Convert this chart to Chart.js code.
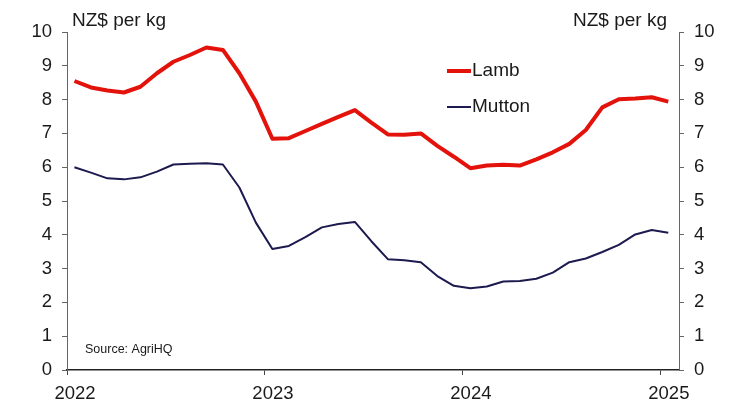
<!DOCTYPE html>
<html>
<head>
<meta charset="utf-8">
<script src="https://cdn.jsdelivr.net/npm/chart.js@4.4.1/dist/chart.umd.min.js"></script>
<style>
  html, body { margin: 0; padding: 0; background: #fff; }
  #chart { display: block; }
</style>
</head>
<body>
<canvas id="chart" width="734" height="400"></canvas>
<script>
// Monthly prices, Jan 2022 - Jan 2025
const months = [
  "Jan 22", "Feb 22", "Mar 22", "Apr 22", "May 22", "Jun 22", "Jul 22", "Aug 22", "Sep 22", "Oct 22", "Nov 22", "Dec 22",
  "Jan 23", "Feb 23", "Mar 23", "Apr 23", "May 23", "Jun 23", "Jul 23", "Aug 23", "Sep 23", "Oct 23", "Nov 23", "Dec 23",
  "Jan 24", "Feb 24", "Mar 24", "Apr 24", "May 24", "Jun 24", "Jul 24", "Aug 24", "Sep 24", "Oct 24", "Nov 24", "Dec 24",
  "Jan 25"
];
const lamb = [
  8.55, 8.36, 8.27, 8.21, 8.38, 8.78, 9.12, 9.32, 9.54, 9.47, 8.78, 7.94,
  6.84, 6.86, 7.07, 7.28, 7.49, 7.69, 7.32, 6.97, 6.96, 7.0, 6.63, 6.31,
  5.97, 6.05, 6.07, 6.05, 6.23, 6.44, 6.69, 7.1, 7.77, 8.01, 8.03, 8.07,
  7.94
];
const mutton = [
  6.0, 5.84, 5.67, 5.64, 5.7, 5.87, 6.08, 6.1, 6.12, 6.08, 5.4, 4.36,
  3.58, 3.67, 3.93, 4.22, 4.32, 4.38, 3.81, 3.28, 3.25, 3.19, 2.78, 2.49,
  2.42, 2.47, 2.62, 2.63, 2.7, 2.88, 3.19, 3.3, 3.49, 3.7, 4.01, 4.14,
  4.06
];
const yearTicks = [0, 12, 24, 36];
const yearLabels = ["2022", "2023", "2024", "2025"];

const RED = "#e3120b";
const NAVY = "#1c1a4e";
const TEXT = "#1a1a1a";
const FONT = "'Liberation Sans', Arial, sans-serif";

// points sit mid-month
const toPoints = (arr) => arr.map((v, i) => ({ x: i + 0.45, y: v }));

// Legend, unit labels and source note
const annotations = {
  id: "annotations",
  afterDraw(chart) {
    const ctx = chart.ctx;
    ctx.save();
    ctx.textBaseline = "middle";
    ctx.font = "19px " + FONT;
    ctx.fillStyle = TEXT;

    // legend
    ctx.lineCap = "butt";
    ctx.strokeStyle = RED;
    ctx.lineWidth = 4;
    ctx.beginPath();
    ctx.moveTo(447, 71);
    ctx.lineTo(471, 71);
    ctx.stroke();
    ctx.strokeStyle = NAVY;
    ctx.lineWidth = 2;
    ctx.beginPath();
    ctx.moveTo(447, 107);
    ctx.lineTo(471, 107);
    ctx.stroke();
    ctx.textAlign = "left";
    ctx.fillText("Lamb", 472, 71);
    ctx.fillText("Mutton", 472, 107);

    // units
    ctx.textBaseline = "alphabetic";
    ctx.fillText("NZ$ per kg", 72, 26);
    ctx.textAlign = "right";
    ctx.fillText("NZ$ per kg", 667, 26);

    // source
    ctx.textAlign = "left";
    ctx.textBaseline = "middle";
    ctx.font = "12.5px " + FONT;
    ctx.fillText("Source: AgriHQ", 85, 350);
    ctx.restore();
  }
};

const yAxis = (position, width) => ({
  type: "linear",
  position: position,
  min: 0,
  max: 10,
  ticks: {
    stepSize: 1,
    padding: 10,
    color: TEXT,
    font: { family: FONT, size: 18.5 }
  },
  grid: {
    drawOnChartArea: false,
    drawTicks: true,
    tickLength: 5,
    color: "#666"
  },
  border: { display: true, color: "#666", width: 1 },
  afterFit(scale) { scale.width = width; }
});

new Chart(document.getElementById("chart"), {
  type: "line",
  data: {
    labels: months,
    datasets: [
      {
        label: "Lamb",
        data: toPoints(lamb),
        borderColor: RED,
        borderWidth: 4,
        pointRadius: 0,
        tension: 0,
        borderJoinStyle: "round",
        yAxisID: "y"
      },
      {
        label: "Mutton",
        data: toPoints(mutton),
        borderColor: NAVY,
        borderWidth: 2,
        pointRadius: 0,
        tension: 0,
        borderJoinStyle: "round",
        yAxisID: "y"
      }
    ]
  },
  options: {
    responsive: false,
    animation: false,
    parsing: true,
    layout: { padding: { top: 32, left: 0, right: 0, bottom: 0 } },
    plugins: {
      legend: { display: false },
      tooltip: { enabled: false }
    },
    scales: {
      x: {
        type: "linear",
        min: 0,
        max: 37.1,
        afterBuildTicks(scale) {
          scale.ticks = yearTicks.map((v) => ({ value: v }));
        },
        ticks: {
          padding: 8,
          labelOffset: 8,
          maxRotation: 0,
          color: TEXT,
          font: { family: FONT, size: 18.5 },
          callback: (value) => yearLabels[yearTicks.indexOf(value)]
        },
        grid: {
          drawOnChartArea: false,
          drawTicks: true,
          tickLength: 5,
          color: "#444"
        },
        border: { display: true, color: "#222", width: 1.5 },
        afterFit(scale) { scale.height = 30; }
      },
      y: yAxis("left", 67),
      y2: yAxis("right", 55)
    }
  },
  plugins: [annotations]
});
</script>
</body>
</html>
